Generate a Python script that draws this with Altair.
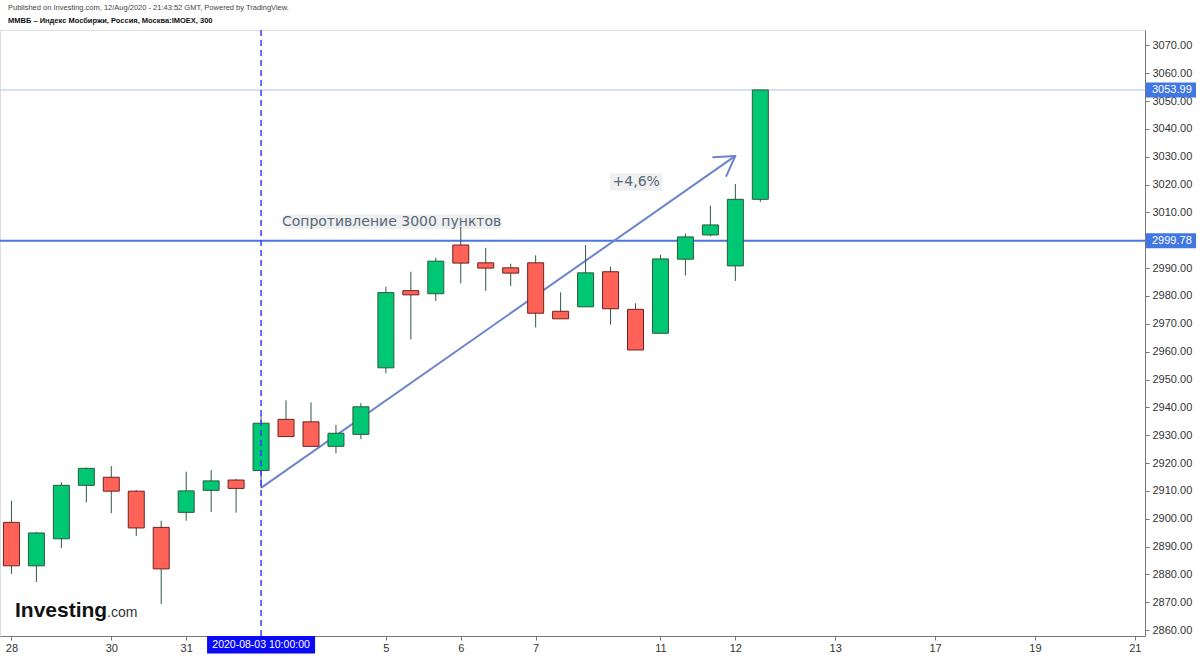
import altair as alt
import pandas as pd

# ---------------- data ----------------
idx = list(range(31))
opens = [2898.7, 2883.1, 2892.8, 2912.0, 2914.9, 2909.9, 2896.9, 2902.3, 2910.2, 2913.9,
         2917.3, 2935.7, 2934.8, 2926.0, 2930.3, 2954.2, 2981.9, 2980.8, 2998.3, 2991.9,
         2990.1, 2991.9, 2974.5, 2976.1, 2988.7, 2975.2, 2966.6, 2993.2, 3001.9, 2990.8, 3014.7]
highs = [2906.5, 2895.3, 2913.1, 2918.4, 2918.9, 2910.3, 2899.3, 2916.9, 2917.5, 2914.3,
         2937.3, 2942.5, 2941.8, 2933.7, 2941.5, 2983.3, 2988.7, 2993.7, 3004.8, 2997.3,
         2991.6, 2994.6, 2981.3, 2998.3, 2990.5, 2977.4, 2994.8, 3002.4, 3012.4, 3020.2, 3053.99]
lows = [2880.2, 2877.3, 2889.4, 2905.9, 2902.0, 2893.8, 2869.4, 2899.3, 2902.4, 2902.2,
        2911.1, 2929.5, 2926.0, 2923.5, 2928.6, 2952.2, 2964.4, 2978.2, 2984.5, 2981.8,
        2983.6, 2968.7, 2971.8, 2976.1, 2969.7, 2960.6, 2966.6, 2987.4, 3001.4, 2985.4, 3013.8]
closes = [2883.1, 2894.9, 2912.0, 2918.1, 2909.9, 2896.7, 2882.0, 2910.0, 2913.6, 2910.9,
          2934.3, 2929.5, 2926.0, 2930.7, 2940.2, 2981.2, 2980.4, 2992.5, 2991.8, 2990.0,
          2988.2, 2973.8, 2971.8, 2988.3, 2975.4, 2960.6, 2993.3, 3001.2, 3005.5, 3014.7, 3053.99]

tick_pos = [0, 4, 7, 15, 18, 21, 26, 29, 33, 37, 41, 45]
tick_lbl = ['28', '30', '31', '5', '6', '7', '11', '12', '13', '17', '19', '21']
y_ticks = list(range(2860, 3071, 10))

levels = [2999.78, 3053.99]
level_labels = ['2999.78', '3053.99']

marker_idx = [10]
marker_lbl = ['2020-08-03 10:00:00']

arrow_i = [10, 29]
arrow_v = [2911.1, 3030.3]
arm_i = [28.11, 28.64]
arm_v = [3029.8, 3023.1]

note_text = ['Сопротивление 3000 пунктов', '+4,6%']
note_i = [15.23, 25.03]
note_v = [3006.7, 3020.9]
note_box_i1 = [10.97, 23.97]
note_box_i2 = [19.6, 26.08]
note_box_v1 = [3004.0, 3017.8]
note_box_v2 = [3009.3, 3024.0]

header1 = 'Published on Investing.com, 12/Aug/2020 - 21:43:52 GMT, Powered by TradingView.'
header2 = 'ММВБ – Индекс Мосбиржи, Россия, Москва:IMOEX, 300'

# ---------------- chart ----------------
W, H = 1145, 606
df = pd.DataFrame({'i': idx, 'open': opens, 'high': highs, 'low': lows, 'close': closes})
df['dir'] = ['up' if c >= o else 'down' for o, c in zip(opens, closes)]

xscale = alt.Scale(domain=[-0.258, 45.21], nice=False, zero=False)
yscale = alt.Scale(domain=[2857.9, 3075.5], nice=False, zero=False)

label_expr = ("[" + ",".join(f"'{l}'" for l in tick_lbl) + "][indexof(["
              + ",".join(str(p) for p in tick_pos) + "], datum.value)]")

xaxis = alt.Axis(values=tick_pos, labelExpr=label_expr, title=None, grid=False,
                 orient='bottom', tickSize=4, labelPadding=2, labelFontSize=11,
                 labelOverlap=False, labelFlush=False,
                 domainColor='#777', tickColor='#777', labelColor='#333')
yaxis = alt.Axis(values=y_ticks, format='.2f', orient='right', title=None, grid=False,
                 tickSize=4, labelPadding=3, labelFontSize=11,
                 labelOverlap=False, labelFlush=False,
                 domainColor='#777', tickColor='#777', labelColor='#333')


def X(f):
    return alt.X(f, scale=xscale, axis=xaxis)


def Y(f):
    return alt.Y(f, scale=yscale, axis=yaxis)


base = alt.Chart(df)
wicks = base.mark_rule(color='#2f5a40', strokeWidth=1).encode(
    x=X('i:Q'), y=Y('low:Q'), y2='high:Q')
bodies = base.mark_bar(size=16, strokeWidth=1).encode(
    x=X('i:Q'), y=Y('open:Q'), y2='close:Q',
    fill=alt.Fill('dir:N', scale=alt.Scale(domain=['up', 'down'], range=['#00c774', '#ff6358']), legend=None),
    stroke=alt.Stroke('dir:N', scale=alt.Scale(domain=['up', 'down'], range=['#2b5a3a', '#6b2222']), legend=None))

lv = pd.DataFrame({'level': levels, 'lbl': level_labels})
res_line = alt.Chart(lv.iloc[[0]]).mark_rule(color='#4a78e0', strokeWidth=2).encode(
    y=Y('level:Q'), x=alt.value(0), x2=alt.value(W))
last_line = alt.Chart(lv.iloc[[1]]).mark_rule(color='#c9d7f5', strokeWidth=1.5).encode(
    y=Y('level:Q'), x=alt.value(0), x2=alt.value(W))
price_box = alt.Chart(lv).mark_rule(color='#4177e3', strokeWidth=15, strokeCap='butt').encode(
    y=Y('level:Q'), x=alt.value(W + 1), x2=alt.value(W + 51))
price_txt = alt.Chart(lv).mark_text(align='left', baseline='middle', color='white', fontSize=11,
                                     font='Liberation Sans').encode(
    y=Y('level:Q'), x=alt.value(W + 7), text='lbl:N')

mk = pd.DataFrame({'i': marker_idx, 'lbl': marker_lbl})
vline = alt.Chart(mk).mark_rule(color='#3b3bff', strokeWidth=1.5, strokeDash=[6, 4]).encode(
    x=X('i:Q'), y=alt.value(0), y2=alt.value(H))
date_box = alt.Chart(mk).mark_rule(color='#0a0af5', strokeWidth=17.5, strokeCap='butt',
                                   xOffset=-54, x2Offset=54).encode(
    x=X('i:Q'), x2='i:Q', y=alt.value(H + 8.7))
date_txt = alt.Chart(mk).mark_text(color='white', fontSize=10.5, baseline='middle',
                                   font='Liberation Sans').encode(
    x=X('i:Q'), y=alt.value(H + 9), text='lbl:N')

ar = pd.DataFrame({'i': arrow_i, 'v': arrow_v})
arrow = alt.Chart(ar).mark_line(color='#6c84cc', strokeWidth=2).encode(
    x=X('i:Q'), y=Y('v:Q'))
arms = pd.DataFrame({'i': [arrow_i[1]] * 2, 'v': [arrow_v[1]] * 2, 'i2': arm_i, 'v2': arm_v})
arrow_head = alt.Chart(arms).mark_rule(color='#6c84cc', strokeWidth=2, strokeCap='round').encode(
    x=X('i:Q'), y=Y('v:Q'), x2='i2:Q', y2='v2:Q')

nt = pd.DataFrame({'t': note_text, 'i': note_i, 'v': note_v,
                   'bi1': note_box_i1, 'bi2': note_box_i2, 'bv1': note_box_v1, 'bv2': note_box_v2})
note_bg = alt.Chart(nt).mark_rect(color='#efefef').encode(
    x=X('bi1:Q'), x2='bi2:Q', y=Y('bv1:Q'), y2='bv2:Q')
note_txt = alt.Chart(nt).mark_text(color='#56677a', fontSize=14, font='DejaVu Sans',
                                   baseline='middle').encode(
    x=X('i:Q'), y=Y('v:Q'), text='t:N')

hd = pd.DataFrame({'t': [header1, header2]})
h1 = alt.Chart(hd.iloc[[0]]).mark_text(align='left', baseline='middle', fontSize=7.5, color='#444',
                                        font='Liberation Sans').encode(
    x=alt.value(8), y=alt.value(-22), text='t:N')
h2 = alt.Chart(hd.iloc[[1]]).mark_text(align='left', baseline='middle', fontSize=7.5, color='#111',
                                        fontWeight='bold', font='Liberation Sans').encode(
    x=alt.value(8), y=alt.value(-9), text='t:N')

lg = pd.DataFrame({'t': ['Investing', '.com']})
logo1 = alt.Chart(lg.iloc[[0]]).mark_text(align='left', baseline='alphabetic', fontSize=21,
                                          fontWeight='bold', color='#111', font='Liberation Sans').encode(
    x=alt.value(15), y=alt.value(587), text='t:N')
logo2 = alt.Chart(lg.iloc[[1]]).mark_text(align='left', baseline='alphabetic', fontSize=14,
                                          color='#333', font='Liberation Sans').encode(
    x=alt.value(107), y=alt.value(587), text='t:N')

chart = alt.layer(
    last_line, res_line, note_bg, note_txt, arrow, arrow_head, wicks, bodies, vline,
    price_box, price_txt, date_box, date_txt, h1, h2, logo1, logo2
).properties(
    width=W, height=H,
    autosize=alt.AutoSizeParams(type='none'),
    padding={'left': 0, 'top': 30, 'right': 55, 'bottom': 21}
).configure_view(stroke=None).configure(background='white', font='Liberation Sans')

chart.save("out.html", embed_options={"renderer": "svg", "actions": False})
